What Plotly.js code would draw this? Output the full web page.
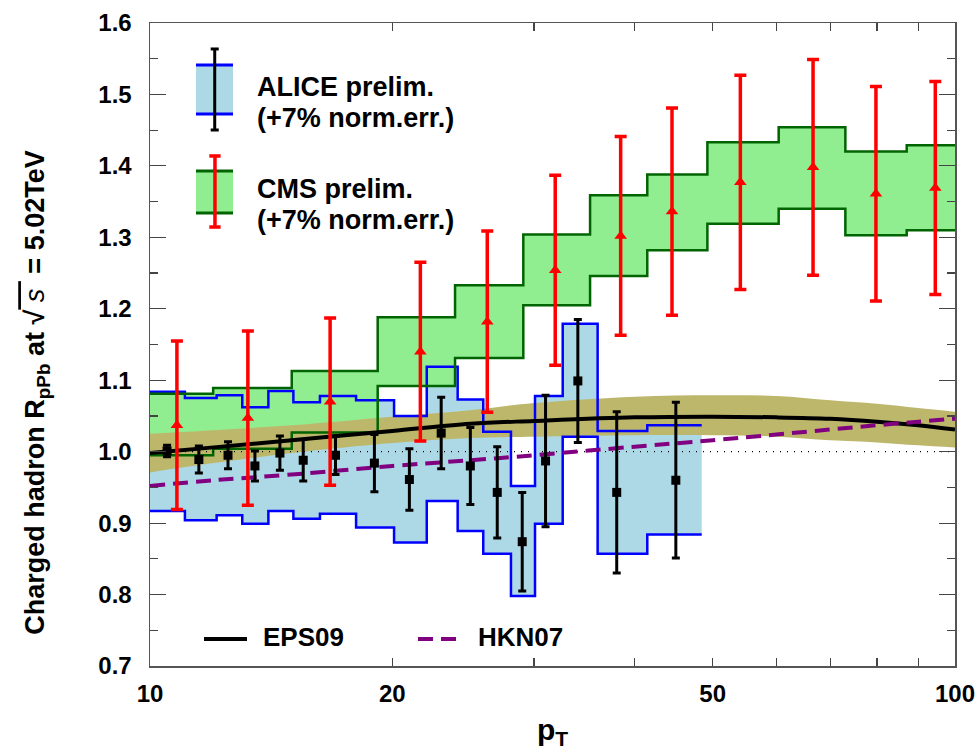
<!DOCTYPE html>
<html>
<head>
<meta charset="utf-8">
<script src="https://cdn.plot.ly/plotly-3.0.1.min.js"></script>
<style>html,body{margin:0;padding:0;background:#fff;}#chart{width:979px;height:754px;}</style>
</head>
<body>
<div id="chart"></div>
<script>
// ---------------- data ----------------
// ALICE preliminary (systematic boxes: bin edges + band limits; points: pT, R, stat. error)
const aliceEdges   = [10, 11.05, 12.1, 13.02, 14.03, 15.07, 16.26, 18.03, 20.1, 22.07, 24.11, 25.94, 28.08, 30.08, 32.56, 35.98, 41.47, 48.46];
const aliceSysHigh = [1.084, 1.075, 1.079, 1.062, 1.085, 1.069, 1.078, 1.072, 1.050, 1.119, 1.073, 1.028, 0.952, 1.078, 1.179, 1.029, 1.037];
const aliceSysLow  = [0.917, 0.904, 0.911, 0.899, 0.917, 0.906, 0.913, 0.894, 0.873, 0.931, 0.889, 0.857, 0.798, 0.899, 1.021, 0.857, 0.884];
const alicePt      = [10.5, 11.5, 12.5, 13.5, 14.5, 15.5, 17, 19, 21, 23, 25, 27, 29, 31, 34, 38, 45];
const aliceR       = [1.001, 0.989, 0.995, 0.980, 0.998, 0.988, 0.995, 0.984, 0.961, 1.026, 0.980, 0.943, 0.874, 0.987, 1.099, 0.943, 0.960];
const aliceStat    = [0.008, 0.019, 0.019, 0.021, 0.024, 0.029, 0.027, 0.040, 0.043, 0.050, 0.054, 0.064, 0.069, 0.092, 0.086, 0.113, 0.109];

// CMS preliminary
const cmsEdges   = [10, 11.98, 15.0, 19.18, 23.93, 29.09, 35.21, 41.47, 49.25, 60.39, 73.08, 87.10, 100];
const cmsSysHigh = [1.081, 1.089, 1.113, 1.188, 1.233, 1.304, 1.359, 1.388, 1.433, 1.454, 1.420, 1.429];
const cmsSysLow  = [0.995, 1.004, 1.027, 1.092, 1.131, 1.205, 1.246, 1.282, 1.319, 1.340, 1.303, 1.310];
const cmsPt      = [10.8, 13.23, 16.74, 21.67, 26.24, 31.87, 38.43, 44.51, 54.12, 66.63, 79.76, 94.52];
const cmsR       = [1.037, 1.047, 1.070, 1.140, 1.182, 1.254, 1.302, 1.336, 1.377, 1.398, 1.361, 1.369];
const cmsErr     = [0.118, 0.122, 0.117, 0.125, 0.127, 0.133, 0.139, 0.145, 0.150, 0.151, 0.150, 0.149];

// Theory curves
const theoryPt  = [10, 12, 15, 20, 25, 30, 40, 50, 60, 70, 80, 90, 100];
const eps09     = [0.998, 1.006, 1.016, 1.029, 1.039, 1.043, 1.048, 1.049, 1.048, 1.046, 1.042, 1.037, 1.031];
const eps09High = [1.025, 1.030, 1.037, 1.049, 1.058, 1.068, 1.077, 1.079, 1.078, 1.072, 1.067, 1.061, 1.056];
const eps09Low  = [0.971, 0.984, 0.998, 1.012, 1.019, 1.021, 1.023, 1.023, 1.021, 1.016, 1.013, 1.009, 1.006];
const hkn07     = [0.952, 0.960, 0.968, 0.980, 0.988, 0.995, 1.007, 1.016, 1.024, 1.031, 1.037, 1.042, 1.046];

// Unity reference
const unityX = [10, 100];
const unityY = [1, 1];

// Tick labels
const xTickVals  = [10, 20, 50, 100];
const xTickText  = ['10', '20', '50', '100'];
const xMinorVals = [30, 40, 60, 70, 80, 90];
const yTickVals  = [0.7, 0.8, 0.9, 1.0, 1.1, 1.2, 1.3, 1.4, 1.5, 1.6];
const yTickText  = ['0.7', '0.8', '0.9', '1.0', '1.1', '1.2', '1.3', '1.4', '1.5', '1.6'];

// ---------------- helpers ----------------
function stepY(vals) { return vals.concat([vals[vals.length - 1]]); }

const FONT = 'Liberation Sans, Arial, Helvetica, sans-serif';
const base = {type: 'scatter', mode: 'lines', hoverinfo: 'skip', showlegend: false};

const traces = [
  // fills
  Object.assign({}, base, {x: aliceEdges, y: stepY(aliceSysLow), line: {width: 0, shape: 'hv'}}),
  Object.assign({}, base, {x: aliceEdges, y: stepY(aliceSysHigh), line: {width: 0, shape: 'hv'}, fill: 'tonexty', fillcolor: '#ADD8E6'}),
  Object.assign({}, base, {x: cmsEdges, y: stepY(cmsSysLow), line: {width: 0, shape: 'hv'}}),
  Object.assign({}, base, {x: cmsEdges, y: stepY(cmsSysHigh), line: {width: 0, shape: 'hv'}, fill: 'tonexty', fillcolor: '#90EE90'}),
  Object.assign({}, base, {x: theoryPt, y: eps09Low, line: {width: 0, shape: 'spline'}}),
  Object.assign({}, base, {x: theoryPt, y: eps09High, line: {width: 0, shape: 'spline'}, fill: 'tonexty', fillcolor: '#BDB76B'}),
  // band edges
  Object.assign({}, base, {x: aliceEdges, y: stepY(aliceSysLow), line: {width: 2.5, shape: 'hv', color: '#0000FF'}}),
  Object.assign({}, base, {x: aliceEdges, y: stepY(aliceSysHigh), line: {width: 2.5, shape: 'hv', color: '#0000FF'}}),
  Object.assign({}, base, {x: cmsEdges, y: stepY(cmsSysLow), line: {width: 2.5, shape: 'hv', color: '#006400'}}),
  Object.assign({}, base, {x: cmsEdges, y: stepY(cmsSysHigh), line: {width: 2.5, shape: 'hv', color: '#006400'}}),
  // unity
  Object.assign({}, base, {x: unityX, y: unityY, line: {width: 1.3, color: '#000', dash: '1px,6px'}}),
  // theory
  Object.assign({}, base, {x: theoryPt, y: eps09, line: {width: 4, color: '#000', shape: 'spline'}}),
  Object.assign({}, base, {x: theoryPt, y: hkn07, line: {width: 4, color: '#800080', shape: 'spline', dash: '15px,8px'}}),
  // data points
  {type: 'scatter', mode: 'markers', x: alicePt, y: aliceR, hoverinfo: 'skip', showlegend: false,
   marker: {symbol: 'square', size: 9, color: '#000'},
   error_y: {type: 'data', array: aliceStat, visible: true, color: '#000', thickness: 3, width: 4}},
  {type: 'scatter', mode: 'markers', x: cmsPt, y: cmsR, hoverinfo: 'skip', showlegend: false,
   marker: {symbol: 'triangle-up', size: 11, color: '#FF0000'},
   error_y: {type: 'data', array: cmsErr, visible: true, color: '#FF0000', thickness: 3.5, width: 6}}
];

// legend geometry in paper coordinates
const shapes = [
  // ALICE legend
  {type: 'rect', xref: 'paper', yref: 'paper', x0: 0.0571, x1: 0.1031, y0: 0.8585, y1: 0.9347, fillcolor: '#ADD8E6', line: {width: 0}},
  {type: 'line', xref: 'paper', yref: 'paper', x0: 0.0571, x1: 0.1031, y0: 0.9347, y1: 0.9347, line: {color: '#0000FF', width: 3}},
  {type: 'line', xref: 'paper', yref: 'paper', x0: 0.0571, x1: 0.1031, y0: 0.8585, y1: 0.8585, line: {color: '#0000FF', width: 3}},
  {type: 'line', xref: 'paper', yref: 'paper', x0: 0.0804, x1: 0.0804, y0: 0.8336, y1: 0.9596, line: {color: '#000', width: 3}},
  {type: 'line', xref: 'paper', yref: 'paper', x0: 0.0754, x1: 0.0854, y0: 0.9596, y1: 0.9596, line: {color: '#000', width: 3}},
  {type: 'line', xref: 'paper', yref: 'paper', x0: 0.0754, x1: 0.0854, y0: 0.8336, y1: 0.8336, line: {color: '#000', width: 3}},
  // CMS legend
  {type: 'rect', xref: 'paper', yref: 'paper', x0: 0.0571, x1: 0.1031, y0: 0.7045, y1: 0.7698, fillcolor: '#90EE90', line: {width: 0}},
  {type: 'line', xref: 'paper', yref: 'paper', x0: 0.0571, x1: 0.1031, y0: 0.7698, y1: 0.7698, line: {color: '#006400', width: 3}},
  {type: 'line', xref: 'paper', yref: 'paper', x0: 0.0571, x1: 0.1031, y0: 0.7045, y1: 0.7045, line: {color: '#006400', width: 3}},
  {type: 'line', xref: 'paper', yref: 'paper', x0: 0.0807, x1: 0.0807, y0: 0.6827, y1: 0.7932, line: {color: '#FF0000', width: 3.5}},
  {type: 'line', xref: 'paper', yref: 'paper', x0: 0.0737, x1: 0.0877, y0: 0.7932, y1: 0.7932, line: {color: '#FF0000', width: 3.5}},
  {type: 'line', xref: 'paper', yref: 'paper', x0: 0.0737, x1: 0.0877, y0: 0.6827, y1: 0.6827, line: {color: '#FF0000', width: 3.5}},
  // theory legend
  {type: 'line', xref: 'paper', yref: 'paper', x0: 0.0671, x1: 0.1205, y0: 0.042, y1: 0.042, line: {color: '#000', width: 4}},
  {type: 'line', xref: 'paper', yref: 'paper', x0: 0.3329, x1: 0.3876, y0: 0.042, y1: 0.042, line: {color: '#800080', width: 4, dash: '15px,8px'}}
];

function ann(text, x, y, size) {
  return {text: text, xref: 'paper', yref: 'paper', x: x, y: y, xanchor: 'left', yanchor: 'middle',
          showarrow: false, borderpad: 0, font: {family: FONT, size: size, color: '#000', weight: 'bold'}};
}
const annotations = [
  ann('ALICE prelim.', 0.1317, 0.901, 27),
  ann('(+7% norm.err.)', 0.1317, 0.853, 27),
  ann('CMS prelim.', 0.1317, 0.742, 27),
  ann('(+7% norm.err.)', 0.1317, 0.694, 27),
  ann('EPS09', 0.139, 0.045, 26),
  ann('HKN07', 0.4062, 0.045, 26),
  {text: 'Charged hadron R<sub>pPb</sub> at √<span style="text-decoration:overline;font-weight:normal"><i> s </i></span> = 5.02TeV',
   xref: 'paper', yref: 'paper', x: -0.1404, y: 0.425, xanchor: 'center', yanchor: 'middle', textangle: -90,
   showarrow: false, borderpad: 0, font: {family: FONT, size: 27, color: '#000', weight: 'bold'}}
];

const tickFont = {family: FONT, size: 24, color: '#000', weight: 'bold'};
const layout = {
  width: 979, height: 754,
  margin: {l: 150, r: 24, t: 23, b: 88},
  paper_bgcolor: '#fff', plot_bgcolor: '#fff',
  showlegend: false,
  xaxis: {
    type: 'log', range: [1, 2], showgrid: false, zeroline: false,
    showline: true, linecolor: '#555', linewidth: 1.5, mirror: 'ticks',
    ticks: 'inside', ticklen: 8, tickwidth: 1.2, tickcolor: '#444',
    tickmode: 'array', tickvals: xTickVals, ticktext: xTickText,
    minor: {tickmode: 'array', tickvals: xMinorVals, ticks: 'inside', ticklen: 8, tickwidth: 1.2, tickcolor: '#444', showgrid: false},
    tickfont: tickFont, ticklabelstandoff: 6,
    title: {text: 'p<sub>T</sub>', font: {family: FONT, size: 30, color: '#000', weight: 'bold'}, standoff: 12}
  },
  yaxis: {
    range: [0.7, 1.6], showgrid: false, zeroline: false,
    showline: true, linecolor: '#555', linewidth: 1.5, mirror: 'ticks',
    ticks: 'inside', ticklen: 16, tickwidth: 1.2, tickcolor: '#444',
    tickmode: 'array', tickvals: yTickVals, ticktext: yTickText,
    tickfont: tickFont, ticklabelstandoff: 12,
    minor: {dtick: 0.05, ticks: 'inside', ticklen: 8, tickwidth: 1.2, tickcolor: '#444', showgrid: false}
  },
  shapes: shapes,
  annotations: annotations
};

Plotly.newPlot('chart', traces, layout, {displayModeBar: false, staticPlot: true}).then(function (gd) {
  // drop empty placeholder text nodes that Plotly leaves behind
  gd.querySelectorAll('text').forEach(function (t) {
    if (!t.textContent || !t.textContent.trim()) t.remove();
  });
});
</script>
</body>
</html>
